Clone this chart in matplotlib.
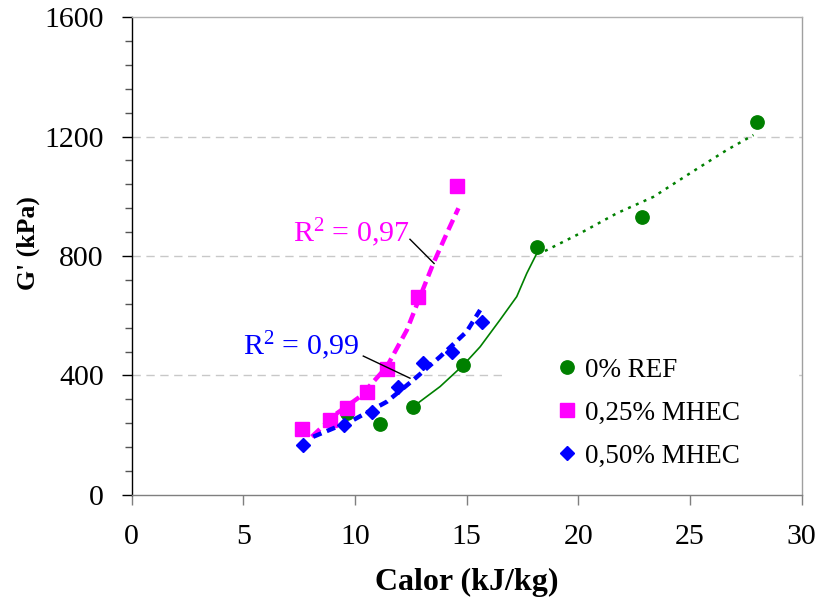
import matplotlib
matplotlib.use("Agg")
import matplotlib.pyplot as plt
from matplotlib.ticker import MultipleLocator

plt.rcParams["font.family"] = ["Liberation Serif", "DejaVu Serif"]
plt.rcParams["mathtext.fontset"] = "custom"
plt.rcParams["mathtext.rm"] = "Liberation Serif"
plt.rcParams["mathtext.it"] = "Liberation Serif:italic"

# Series markers (Calor kJ/kg, G' kPa)
ref_x = [9.64, 11.12, 12.58, 14.84, 18.14, 22.84, 28.02]
ref_y = [274, 238, 296, 435, 831, 932, 1249]
mh25_x = [7.64, 8.88, 9.63, 10.52, 11.42, 12.81, 14.55]
mh25_y = [220, 251, 290, 346, 421, 664, 1034]
mh50_x = [7.66, 9.51, 10.75, 11.94, 13.06, 14.33, 15.67]
mh50_y = [167, 234, 279, 360, 443, 480, 580]

# Continuous curves
ref_curve_x = [12.61, 13.81, 14.85, 15.6, 16.49, 17.24, 17.69, 18.14]
ref_curve_y = [296, 363, 435, 496, 586, 664, 742, 809]
ref_tail_x = [18.14, 18.43, 20.08, 21.72, 23.36, 25.0, 26.65, 27.84]
ref_tail_y = [809, 814, 876, 943, 998, 1077, 1155, 1205]
mh25_fit_x = [8.06, 9.18, 10.22, 11.42, 12.32, 12.91, 13.51, 14.11, 14.63]
mh25_fit_y = [195, 273, 329, 429, 552, 664, 776, 876, 960]
mh50_fit_x = [8.13, 9.92, 11.42, 12.61, 13.81, 15.0, 15.6]
mh50_fit_y = [195, 251, 312, 385, 463, 547, 619]

labels = ["0% REF", "0,25% MHEC", "0,50% MHEC"]
r2_labels = ["R$^{2}$ = 0,97", "R$^{2}$ = 0,99"]

GREEN = "#008000"
PINK = "#FF00FF"
BLUE = "#0000FF"

fig = plt.figure(figsize=(8.21, 6.06), dpi=100)
ax = fig.add_axes([0.1604, 0.1832, 0.8161, 0.7887])

ax.set_xlim(0, 30)
ax.set_ylim(0, 1600)
ax.xaxis.set_major_locator(MultipleLocator(5))
ax.yaxis.set_major_locator(MultipleLocator(400))
ax.yaxis.set_minor_locator(MultipleLocator(80))

for yv in [400, 800, 1200]:
    ax.axhline(yv, color="#c8c8c8", lw=1.0, ls=(0, (6, 4)), zorder=0.5)

# 0% REF
ax.plot(ref_curve_x, ref_curve_y, color=GREEN, lw=1.2, zorder=2)
ax.plot(ref_tail_x, ref_tail_y, color=GREEN, lw=1.8, ls=(0, (1.2, 2.2)), zorder=2)
ax.plot(ref_x, ref_y, ls="none", marker="o", ms=9.6, color=GREEN, zorder=3,
        label=labels[0])

# 0,25% MHEC
ax.plot(mh25_x, mh25_y, ls="none", marker="s", ms=9.4, color=PINK, zorder=3,
        label=labels[1])
ax.plot(mh25_fit_x, mh25_fit_y, color=PINK, lw=3.2, ls=(0, (2.5, 1.3)), zorder=4)

# 0,50% MHEC
ax.plot(mh50_x, mh50_y, ls="none", marker="D", ms=6.8, color=BLUE, zorder=3,
        label=labels[2])
ax.plot(mh50_fit_x, mh50_fit_y, color=BLUE, lw=3.2, ls=(0, (2.0, 1.3)), zorder=4)

# R² annotations with leader lines
ax.text(7.22, 848, r2_labels[0], color=PINK, fontsize=21.5, ha="left",
        va="baseline", zorder=5)
ax.plot([12.46, 13.54], [856, 775], color="black", lw=1.0, zorder=5)
ax.text(4.97, 469, r2_labels[1], color=BLUE, fontsize=21.5, ha="left",
        va="baseline", zorder=5)
ax.plot([10.37, 12.46], [465, 391], color="black", lw=1.0, zorder=5)

# Spines and ticks
ax.spines["left"].set_color("black")
ax.spines["bottom"].set_color("#7f7f7f")
ax.spines["top"].set_color("#b0b0b0")
ax.spines["right"].set_color("#a0a0a0")
for s in ax.spines.values():
    s.set_linewidth(1.0)

ax.tick_params(axis="y", which="major", direction="out", length=7, width=1,
               color="black", labelsize=21.5, pad=13)
ax.tick_params(axis="y", which="minor", direction="out", length=5, width=1,
               color="#555555")
ax.tick_params(axis="x", which="major", direction="out", length=7, width=1,
               color="#7f7f7f", labelsize=21.5, pad=14)

ax.set_xlabel("Calor (kJ/kg)", fontsize=23, fontweight="bold", labelpad=13)
ax.set_ylabel("G' (kPa)", fontsize=18.5, fontweight="bold")
ax.yaxis.set_label_coords(-0.137, 0.527)

leg = ax.legend(loc="center left", bbox_to_anchor=(0.557, 0.171), fontsize=19.5,
                frameon=True, facecolor="white", edgecolor="none", framealpha=1,
                fancybox=False, handlelength=0.6, handletextpad=0.35,
                labelspacing=0.66, borderpad=2.0, borderaxespad=0.0,
                markerscale=1.0)
leg.set_zorder(1)

fig.savefig("out.png", dpi=100)
